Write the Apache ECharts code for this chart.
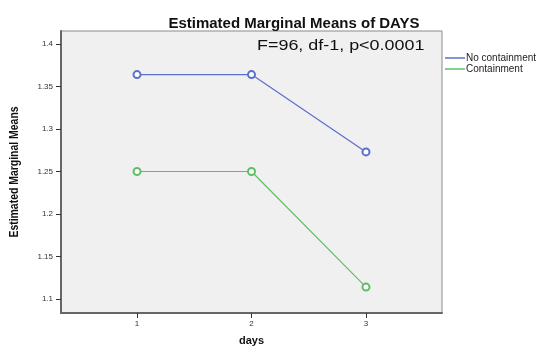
<!DOCTYPE html>
<html><head><meta charset="utf-8">
<script src="https://cdn.jsdelivr.net/npm/echarts@6/dist/echarts.min.js"></script>
<style>html,body{margin:0;padding:0;background:#fff}#c{width:536px;height:346px}</style>
</head><body><div id="c"></div>
<script>
const days = [1, 2, 3];
const noContainment = [1.364, 1.364, 1.273];
const containment = [1.25, 1.25, 1.114];
const yTicks = [1.1, 1.15, 1.2, 1.25, 1.3, 1.35, 1.4];
const seriesNames = ['No containment', 'Containment'];

const chart = echarts.init(document.getElementById('c'), null, {renderer: 'canvas'});
const font = 'Liberation Sans, Arial, sans-serif';
chart.setOption({
  animation: false,
  title: {
    text: 'Estimated Marginal Means of DAYS',
    left: 289, textAlign: 'center', top: 11,
    textStyle: {fontFamily: font, fontSize: 15, fontWeight: 'bold', color: '#111'}
  },
  legend: {
    orient: 'vertical', left: 445, top: 53, padding: 0,
    icon: 'rect', itemWidth: 20, itemHeight: 1.5, itemGap: 1,
    textStyle: {fontFamily: font, fontSize: 10, color: '#222', padding: [0,0,0,-4]},
    data: seriesNames
  },
  grid: {left: 61, right: 94, top: 31, bottom: 33, show: true, outerBoundsMode: 'none', containLabel: false,
    backgroundColor: '#f0f0f0', borderColor: '#8a8a8a', borderWidth: 1},
  xAxis: {
    type: 'value', min: 0.336, max: 3.664,
    name: 'days', nameLocation: 'middle', nameGap: 22,
    nameTextStyle: {fontFamily: font, fontSize: 11, fontWeight: 'bold', color: '#111'},
    axisLine: {show: true, lineStyle: {color: '#666', width: 2}},
    axisTick: {show: true, length: 5, customValues: days, lineStyle: {color: '#333'}},
    axisLabel: {customValues: days, fontFamily: font, fontSize: 8, color: '#333', margin: 7},
    splitLine: {show: false}
  },
  yAxis: {
    type: 'value', min: 1.0835, max: 1.4153,
    axisLine: {show: true, lineStyle: {color: '#666', width: 2}},
    axisTick: {show: true, length: 5, customValues: yTicks, lineStyle: {color: '#333'}},
    axisLabel: {customValues: yTicks, fontFamily: font, fontSize: 8, color: '#333', margin: 8},
    splitLine: {show: false}
  },
  graphic: [{
    type: 'text', x: 257, y: 46.5, scaleX: 1.28,
    style: {text: 'F=96, df-1, p<0.0001', fontFamily: font, fontSize: 14, fill: '#111', verticalAlign: 'middle'}
  }, {
    type: 'text', x: 15, y: 172, rotation: Math.PI / 2, scaleX: 0.87,
    style: {text: 'Estimated Marginal Means', fontFamily: font, fontSize: 12, fontWeight: 'bold', fill: '#111', align: 'center', verticalAlign: 'middle'}
  }],
  series: [
    {name: seriesNames[0], type: 'line', data: days.map((d,i)=>[d, noContainment[i]]),
     symbol: 'emptyCircle', symbolSize: 7, color: '#5b6fcc',
     lineStyle: {width: 1.2, color: '#5b6fcc'}, itemStyle: {color: '#5b6fcc', borderWidth: 1}},
    {name: seriesNames[1], type: 'line', data: days.map((d,i)=>[d, containment[i]]),
     symbol: 'emptyCircle', symbolSize: 7, color: '#5cc063',
     lineStyle: {width: 1.2, color: '#5cc063'}, itemStyle: {color: '#5cc063', borderWidth: 1}}
  ]
});
</script></body></html>
